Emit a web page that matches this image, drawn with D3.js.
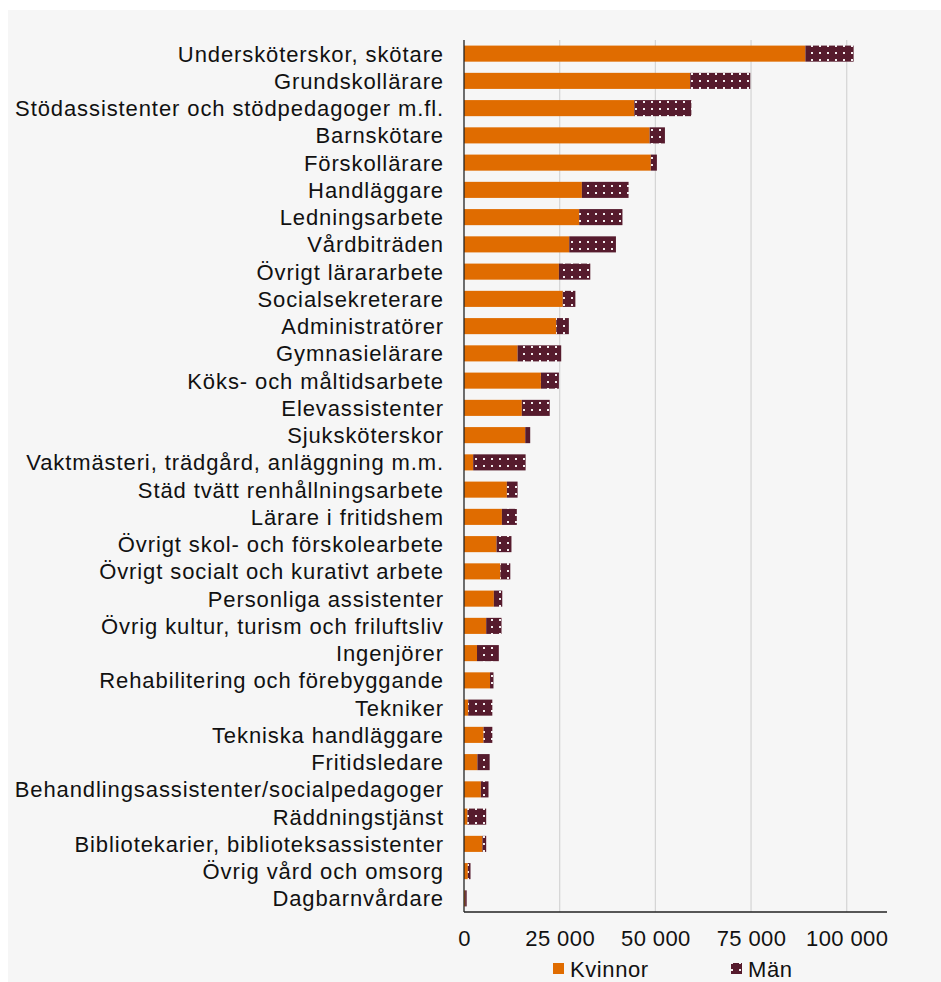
<!DOCTYPE html>
<html>
<head>
<meta charset="utf-8">
<script src="https://cdn.jsdelivr.net/npm/d3@7"></script>
<style>
    body { margin: 0; background: #fff; }
    svg text { font-family: "Liberation Sans", Arial, sans-serif; fill: #111; }
</style>
</head>
<body>
<svg width="941" height="982"></svg>
<script>
var categories = [
    "Undersköterskor, skötare", "Grundskollärare", "Stödassistenter och stödpedagoger m.fl.",
    "Barnskötare", "Förskollärare", "Handläggare", "Ledningsarbete", "Vårdbiträden",
    "Övrigt lärararbete", "Socialsekreterare", "Administratörer", "Gymnasielärare",
    "Köks- och måltidsarbete", "Elevassistenter", "Sjuksköterskor",
    "Vaktmästeri, trädgård, anläggning m.m.", "Städ tvätt renhållningsarbete",
    "Lärare i fritidshem", "Övrigt skol- och förskolearbete", "Övrigt socialt och kurativt arbete",
    "Personliga assistenter", "Övrig kultur, turism och friluftsliv", "Ingenjörer",
    "Rehabilitering och förebyggande", "Tekniker", "Tekniska handläggare", "Fritidsledare",
    "Behandlingsassistenter/socialpedagoger", "Räddningstjänst",
    "Bibliotekarier, biblioteksassistenter", "Övrig vård och omsorg", "Dagbarnvårdare"
];
var kvinnor = [89200, 59100, 44500, 48500, 48800, 30800, 30100, 27500, 24800, 25800, 24100, 14000,
    20100, 15100, 16000, 2400, 11200, 9900, 8500, 9500, 7800, 5800, 3400, 6800, 1100, 5100, 3500,
    4400, 900, 4800, 1000, 300];
var man = [12600, 15700, 14900, 4000, 1600, 12200, 11300, 12200, 8200, 3300, 3300, 11400,
    4700, 7300, 1300, 13700, 2800, 3900, 3900, 2600, 2200, 4000, 5700, 900, 6300, 2300, 3200,
    2000, 4900, 1000, 700, 400];
var tickValues = [0, 25000, 50000, 75000, 100000];
var seriesNames = ["Kvinnor", "Män"];

var colorK = "#e06c00";
var colorM = "#561b2d";

var svg = d3.select("svg");

// grey chart area
svg.append("rect")
    .attr("x", 8).attr("y", 10)
    .attr("width", 933).attr("height", 972)
    .attr("fill", "#f6f6f6");

var defs = svg.append("defs");
var pat = defs.append("pattern")
    .attr("id", "dots")
    .attr("patternUnits", "userSpaceOnUse")
    .attr("width", 8).attr("height", 7);
pat.append("rect").attr("width", 8).attr("height", 7).attr("fill", colorM);
pat.append("rect").attr("x", 3).attr("y", 3).attr("width", 2).attr("height", 2).attr("fill", "#f4eef0");

var x = d3.scaleLinear().domain([0, 110000]).range([464, 885]);
var y = d3.scaleBand().domain(categories).range([40, 912])
    .paddingInner(0.41).paddingOuter(0.205);

// gridlines
svg.append("g")
    .selectAll("line")
    .data(tickValues.slice(1))
    .enter().append("line")
    .attr("x1", function(d) { return x(d); })
    .attr("x2", function(d) { return x(d); })
    .attr("y1", 40).attr("y2", 912)
    .attr("stroke", "#d4d4d4")
    .attr("stroke-width", 1.2);

var rows = categories.map(function(c, i) {
    return { cat: c, k: kvinnor[i], m: man[i] };
});

svg.append("g")
    .selectAll("rect")
    .data(rows)
    .enter().append("rect")
    .attr("x", x(0))
    .attr("y", function(d) { return y(d.cat); })
    .attr("width", function(d) { return x(d.k) - x(0); })
    .attr("height", y.bandwidth())
    .attr("fill", colorK);

svg.append("g")
    .selectAll("rect")
    .data(rows)
    .enter().append("rect")
    .attr("x", function(d) { return x(d.k); })
    .attr("y", function(d) { return y(d.cat); })
    .attr("width", function(d) { return x(d.k + d.m) - x(d.k); })
    .attr("height", y.bandwidth())
    .attr("fill", "url(#dots)");

// category labels
svg.append("g")
    .selectAll("text")
    .data(categories)
    .enter().append("text")
    .attr("x", 444)
    .attr("y", function(d) { return y(d) + y.bandwidth() / 2; })
    .attr("dy", "0.36em")
    .attr("text-anchor", "end")
    .style("font-size", "22px")
    .style("letter-spacing", "0.9px")
    .text(function(d) { return d; });

// axes
var locale = d3.formatLocale({ decimal: ",", thousands: " ", grouping: [3], currency: ["", ""] });
var xAxis = d3.axisBottom(x).tickValues(tickValues).tickSize(0).tickPadding(18)
    .tickFormat(locale.format(",d"));

var gx = svg.append("g")
    .attr("transform", "translate(0,912)")
    .call(xAxis);
gx.select(".domain").remove();
gx.selectAll("text")
    .style("font-size", "22px")
    .style("letter-spacing", "0.4px")
    .attr("fill", "#111");

svg.append("line")
    .attr("x1", 464).attr("x2", 887)
    .attr("y1", 912).attr("y2", 912)
    .attr("stroke", "#222").attr("stroke-width", 1.3);
svg.append("line")
    .attr("x1", 464).attr("x2", 464)
    .attr("y1", 40).attr("y2", 912)
    .attr("stroke", "#222").attr("stroke-width", 1.3);

// legend
var legend = svg.append("g");
var legendX = [553, 731];
seriesNames.forEach(function(name, i) {
    legend.append("rect")
        .attr("x", legendX[i]).attr("y", 963)
        .attr("width", 11).attr("height", 11)
        .attr("fill", i == 0 ? colorK : "url(#dots)");
    legend.append("text")
        .attr("x", legendX[i] + 17).attr("y", 977)
        .style("font-size", "22px")
        .style("letter-spacing", "0.6px")
        .text(name);
});
</script>
</body>
</html>
